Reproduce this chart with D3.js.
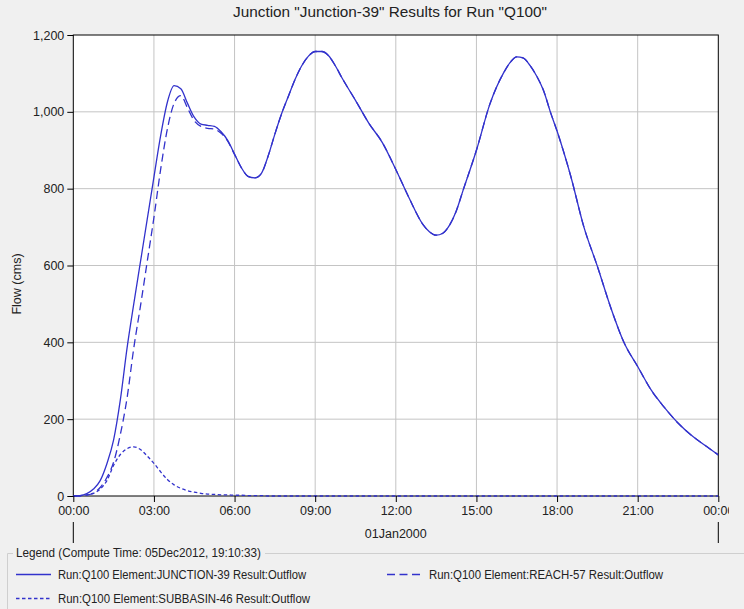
<!DOCTYPE html>
<html>
<head>
<meta charset="utf-8">
<script src="https://cdn.jsdelivr.net/npm/d3@7"></script>
<style>
  body { margin: 0; background: #f0f0f0; }
  svg { display: block; font-family: Arial, "Liberation Sans", sans-serif; }
</style>
</head>
<body>
<script>
// hours since 00:00 01Jan2000
var hours = [0, 0.25, 0.5, 0.75, 1, 1.25, 1.5, 1.75, 2, 2.25, 2.5, 2.75, 3, 3.25, 3.5, 3.75,
  4, 4.25, 4.5, 4.75, 5, 5.25, 5.5, 5.75, 6, 6.25, 6.5, 6.75, 7, 7.25, 7.5, 7.75,
  8, 8.25, 8.5, 8.75, 9, 9.25, 9.5, 9.75, 10, 10.5, 11, 11.5, 12, 12.5, 13, 13.25,
  13.5, 13.75, 14, 14.25, 14.5, 15, 15.5, 16, 16.25, 16.5, 16.75, 17, 17.25, 17.5,
  17.75, 18, 18.5, 19, 19.5, 20, 20.5, 21, 21.5, 22, 22.5, 23, 23.5, 24];

var junction = [0, 1, 6, 18, 40, 84, 146, 250, 385, 500, 610, 720, 830, 938, 1025, 1068,
  1060, 1022, 986, 968, 965, 962, 948, 925, 890, 855, 832, 828, 840, 885, 942, 995,
  1040, 1084, 1120, 1145, 1157, 1157, 1146, 1120, 1088, 1030, 970, 920, 850, 775, 708, 688,
  679, 684, 705, 742, 795, 900, 1020, 1100, 1128, 1143, 1140, 1120, 1092, 1055,
  1000, 950, 835, 700, 598, 490, 398, 337, 276, 230, 190, 158, 132, 107];

var reach = [0, 0, 2, 8, 22, 48, 88, 160, 255, 385, 495, 610, 725, 850, 955, 1022,
  1042, 1010, 977, 962, 957, 955, 944, 923, 889, 855, 832, 828, 840, 885, 942, 995,
  1040, 1084, 1120, 1145, 1157, 1157, 1146, 1120, 1088, 1030, 970, 920, 850, 775, 708, 688,
  679, 684, 705, 742, 795, 900, 1020, 1100, 1128, 1143, 1140, 1120, 1092, 1055,
  1000, 950, 835, 700, 598, 490, 398, 337, 276, 230, 190, 158, 132, 107];

var subbasin = [0, 1, 3, 7, 18, 40, 80, 108, 123, 128, 121, 104, 85, 63, 43, 29,
  20, 14, 10, 7, 5, 4, 3, 3, 2, 2, 1, 1, 1, 0, 0, 0,
  0, 0, 0, 0, 0, 0, 0, 0, 0, 0, 0, 0, 0, 0, 0, 0,
  0, 0, 0, 0, 0, 0, 0, 0, 0, 0, 0, 0, 0, 0,
  0, 0, 0, 0, 0, 0, 0, 0, 0, 0, 0, 0, 0, 0];

var timeTicks = [0, 3, 6, 9, 12, 15, 18, 21, 24];
var timeLabels = ["00:00", "03:00", "06:00", "09:00", "12:00", "15:00", "18:00", "21:00", "00:00"];
var flowTicks = [0, 200, 400, 600, 800, 1000, 1200];

var seriesNames = [
  "Run:Q100 Element:JUNCTION-39 Result:Outflow",
  "Run:Q100 Element:REACH-57 Result:Outflow",
  "Run:Q100 Element:SUBBASIN-46 Result:Outflow"
];
var seriesValues = [junction, reach, subbasin];
var seriesDash = ["none", "8,4.5", "3.5,2.5"];

var W = 744, H = 609;
var plotL = 73.3, plotR = 718.3, plotT = 35, plotB = 496;
var lineColor = "#3232cc";
var textColor = "#222";

var x = d3.scaleLinear().domain([0, 24]).range([plotL, plotR]);
var y = d3.scaleLinear().domain([0, 1200]).range([plotB, plotT]);

var svg = d3.select("body").append("svg")
  .attr("width", W)
  .attr("height", H);

svg.append("rect").attr("width", W).attr("height", H).attr("fill", "#f0f0f0");

svg.append("rect")
  .attr("x", plotL).attr("y", plotT)
  .attr("width", plotR - plotL).attr("height", plotB - plotT)
  .attr("fill", "#fff");

// grid
svg.append("g").selectAll("line")
  .data(timeTicks.slice(1, -1))
  .enter().append("line")
  .attr("x1", d => x(d)).attr("x2", d => x(d))
  .attr("y1", plotT).attr("y2", plotB)
  .attr("stroke", "#c4c4c4");

svg.append("g").selectAll("line")
  .data(flowTicks.slice(1, -1))
  .enter().append("line")
  .attr("x1", plotL).attr("x2", plotR)
  .attr("y1", d => y(d)).attr("y2", d => y(d))
  .attr("stroke", "#c4c4c4");

svg.append("clipPath").attr("id", "plotclip")
  .append("rect")
  .attr("x", plotL).attr("y", plotT - 1)
  .attr("width", plotR - plotL).attr("height", plotB - plotT + 2);

// plot border
svg.append("rect")
  .attr("x", plotL).attr("y", plotT)
  .attr("width", plotR - plotL).attr("height", plotB - plotT)
  .attr("fill", "none").attr("stroke", "#000");

var line = d3.line()
  .x((d, i) => x(hours[i]))
  .y(d => y(d))
  .curve(d3.curveMonotoneX);

svg.append("g").attr("clip-path", "url(#plotclip)")
  .selectAll("path")
  .data([2, 1, 0])
  .enter().append("path")
  .attr("d", k => line(seriesValues[k]))
  .attr("fill", "none")
  .attr("stroke", lineColor)
  .attr("stroke-width", 1.3)
  .attr("stroke-dasharray", k => seriesDash[k]);

// y axis
var yAxis = svg.append("g")
  .attr("transform", `translate(${plotL},0)`)
  .call(d3.axisLeft(y).tickValues(flowTicks).tickFormat(d3.format(",")).tickSize(6).tickPadding(3));
yAxis.select(".domain").remove();
yAxis.selectAll("text").attr("font-size", 12.5).attr("fill", textColor);
yAxis.attr("font-family", null);

// x axis (last label is cut by the right edge of the panel)
svg.append("clipPath").attr("id", "xclip")
  .append("rect").attr("x", 0).attr("y", 0).attr("width", 729).attr("height", 30);

var xAxis = svg.append("g")
  .attr("transform", `translate(0,${plotB})`)
  .attr("clip-path", "url(#xclip)")
  .call(d3.axisBottom(x).tickValues(timeTicks).tickFormat((d, i) => timeLabels[i]).tickSize(6).tickPadding(4));
xAxis.select(".domain").remove();
xAxis.selectAll("text").attr("font-size", 12.5).attr("fill", textColor);
xAxis.attr("font-family", null);

// day marker
svg.append("g").selectAll("line")
  .data([0, 24])
  .enter().append("line")
  .attr("x1", d => x(d)).attr("x2", d => x(d))
  .attr("y1", 522).attr("y2", 543)
  .attr("stroke", "#000");

svg.append("text")
  .attr("x", (plotL + plotR) / 2).attr("y", 538)
  .attr("text-anchor", "middle")
  .attr("font-size", 12.5).attr("fill", textColor)
  .text("01Jan2000");

// y label
svg.append("text")
  .attr("transform", "translate(21,284) rotate(-90)")
  .attr("text-anchor", "middle")
  .attr("font-size", 12.5).attr("fill", textColor)
  .text("Flow (cms)");

// title
svg.append("text")
  .attr("x", 390).attr("y", 17)
  .attr("text-anchor", "middle")
  .attr("font-size", 14).attr("fill", textColor)
  .attr("textLength", 314).attr("lengthAdjust", "spacingAndGlyphs")
  .text('Junction "Junction-39" Results for Run "Q100"');

// legend
var legend = svg.append("g");
legend.append("path")
  .attr("d", "M7.5,609V553.5H13M265,553.5H744")
  .attr("fill", "none").attr("stroke", "#cfcfcf");
legend.append("text")
  .attr("x", 16).attr("y", 557)
  .attr("font-size", 12).attr("fill", textColor)
  .attr("textLength", 245).attr("lengthAdjust", "spacingAndGlyphs")
  .text("Legend (Compute Time: 05Dec2012, 19:10:33)");

var legendPos = [[16, 575], [387, 575], [16, 599]];
var legendTextLen = [248, 234, 252];
var item = legend.selectAll("g.item")
  .data([0, 1, 2])
  .enter().append("g")
  .attr("transform", k => `translate(${legendPos[k][0]},${legendPos[k][1]})`);
item.append("line")
  .attr("x1", 0).attr("x2", 35).attr("y1", -0.5).attr("y2", -0.5)
  .attr("stroke", lineColor).attr("stroke-width", 1.3)
  .attr("stroke-dasharray", k => seriesDash[k]);
item.append("text")
  .attr("x", 42).attr("y", 4)
  .attr("font-size", 12).attr("fill", textColor)
  .attr("textLength", k => legendTextLen[k]).attr("lengthAdjust", "spacingAndGlyphs")
  .text(k => seriesNames[k]);
</script>
</body>
</html>
